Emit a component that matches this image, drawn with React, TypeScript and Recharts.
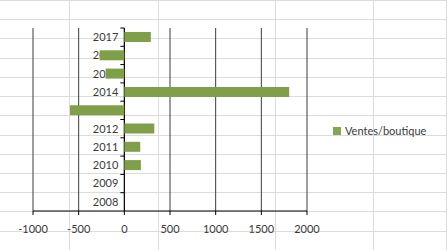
import { Bar, BarChart, CartesianGrid, ReferenceLine, XAxis, YAxis } from "recharts";

const years = ["2008", "2009", "2010", "2011", "2012", "2013", "2014", "2015", "2016", "2017"];
const salesPerShop = [0, 0, 181, 174, 328, -595, 1805, -205, -270, 290];
const xTicks = [-1000, -500, 0, 500, 1000, 1500, 2000];
const seriesName = "Ventes/boutique";

const chartData = years.map((year, index) => ({
  year,
  value: salesPerShop[index],
}));

const chartWidth = 447;
const chartHeight = 250;
const yAxisWidth = 1;
const margin = { top: 28, right: 140, bottom: 9, left: 32 };
const xAxisHeight = 30;
const xDomain: [number, number] = [-1000, 2000];

const plotLeft = margin.left + yAxisWidth;
const plotWidth = chartWidth - plotLeft - margin.right;
const plotHeight = chartHeight - margin.top - margin.bottom - xAxisHeight;
const zeroX = plotLeft + ((0 - xDomain[0]) / (xDomain[1] - xDomain[0])) * plotWidth;
const bandHeight = plotHeight / years.length;

// the bars sit in a second, transparent chart on top so they cover the year labels
const barLayerMargin = {
  top: margin.top,
  right: margin.right,
  bottom: margin.bottom + xAxisHeight,
  left: plotLeft,
};

const barColor = "#7f9f48";
const textColor = "#3a3a3a";
const fontFamily = "Lato, 'Liberation Sans', sans-serif";

// spreadsheet cells behind the chart
const sheetRows = [0, 19, 38, 58, 77, 96, 115, 135, 154, 173, 192, 211, 231];
const sheetCols = [69, 158, 275, 373, 446];

function renderCategoryTick(props: any) {
  const { y, payload, index } = props;
  const top = y - bandHeight / 2;
  return (
    <g key={`tick-${index}`}>
      <line x1={zeroX - 4} x2={zeroX} y1={top} y2={top} stroke="#000" strokeWidth={1} />
      <text
        x={zeroX - 6}
        y={y}
        dy="0.35em"
        textAnchor="end"
        fill={textColor}
        fontSize={11}
        fontFamily={fontFamily}
      >
        {payload.value}
      </text>
    </g>
  );
}

function SheetBackground() {
  return (
    <svg
      width={chartWidth}
      height={chartHeight}
      style={{ position: "absolute", left: 0, top: 0 }}
    >
      {sheetRows.map((y) => (
        <line key={`r${y}`} x1={0} x2={chartWidth} y1={y + 0.5} y2={y + 0.5} stroke="#dcdcdc" />
      ))}
      {sheetCols.map((x) => (
        <line key={`c${x}`} x1={x + 0.5} x2={x + 0.5} y1={0} y2={chartHeight} stroke="#dcdcdc" />
      ))}
    </svg>
  );
}

export default function App() {
  return (
    <div
      style={{
        position: "absolute",
        left: 0,
        top: 0,
        width: chartWidth,
        height: chartHeight,
        background: "#fff",
      }}
    >
      <SheetBackground />
      <div style={{ position: "absolute", left: 0, top: 0 }}>
        <BarChart
          width={chartWidth}
          height={chartHeight}
          data={chartData}
          layout="vertical"
          margin={margin}
        >
          <CartesianGrid horizontal={false} stroke="#3c3c3c" strokeWidth={1} />
          <XAxis
            type="number"
            domain={xDomain}
            ticks={xTicks}
            height={xAxisHeight}
            axisLine={{ stroke: "#000" }}
            tickLine={{ stroke: "#000" }}
            tickSize={4}
            tickMargin={10}
            tick={{ fill: textColor, fontSize: 11, fontFamily }}
            interval={0}
          />
          <YAxis
            type="category"
            dataKey="year"
            reversed
            width={yAxisWidth}
            axisLine={false}
            tickLine={false}
            tick={renderCategoryTick}
            interval={0}
          />
          {/* invisible series so this layer builds its scales */}
          <Bar dataKey="value" fill="none" isAnimationActive={false} />
          <ReferenceLine x={0} stroke="#000" strokeWidth={1} />
        </BarChart>
      </div>
      <div style={{ position: "absolute", left: 0, top: 0 }}>
        <BarChart
          width={chartWidth}
          height={chartHeight}
          data={chartData}
          layout="vertical"
          margin={barLayerMargin}
          barSize={10}
        >
          <XAxis type="number" domain={xDomain} hide />
          <YAxis type="category" dataKey="year" reversed hide />
          <Bar dataKey="value" name={seriesName} fill={barColor} isAnimationActive={false} />
        </BarChart>
      </div>
      <div
        style={{
          position: "absolute",
          left: 333,
          top: 124,
          display: "flex",
          alignItems: "center",
          fontFamily,
          fontSize: 11,
          color: textColor,
        }}
      >
        <span
          style={{
            display: "inline-block",
            width: 8,
            height: 8,
            background: "#85a650",
            marginRight: 4,
          }}
        />
        <span>{seriesName}</span>
      </div>
    </div>
  );
}
